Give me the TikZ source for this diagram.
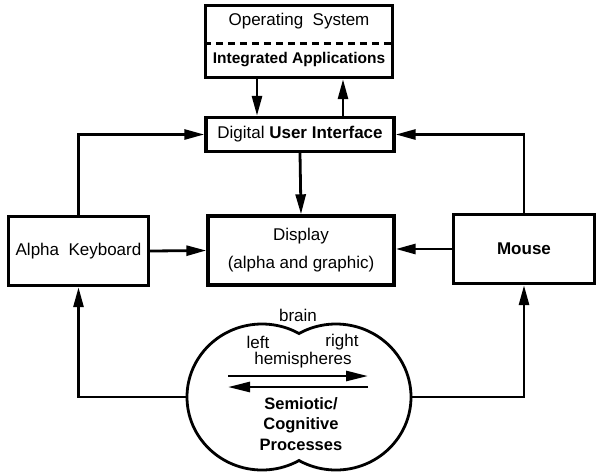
\documentclass[tikz,border=0pt]{standalone}
\usepackage{fontspec}
\setmainfont{Liberation Sans}
\usetikzlibrary{arrows.meta}
\begin{document}
\begin{tikzpicture}[x=1pt,y=-1pt,
  every node/.style={font=\fontsize{17}{20}\selectfont, inner sep=0pt},
  blk/.style={draw, line width=3.4pt},
  conn/.style={line width=2.8pt, -{Triangle[length=20pt,width=10pt]}},
  wire/.style={line width=2.8pt},
  inarrow/.style={line width=2.6pt, -{Triangle[length=22pt,width=10pt]}}
]
\useasboundingbox (0,0) rectangle (597,475);

% top box
\node[blk, minimum width=187pt, minimum height=72pt] (os) at (299,41.5) {};
\node (ostxt) at (299,21) {Operating\ \ System};
\node[font={\fontsize{15.5}{20}\selectfont\bfseries}] (iatxt) at (299,60) {Integrated Applications};
\draw[line width=3pt, dash pattern=on 7pt off 5pt] (os.west |- 0,43) -- (os.east |- 0,43);

% user interface
\node[blk, minimum width=188pt, minimum height=34pt] (ui) at (300,134.5) {Digital \textbf{User Interface}};

% display, keyboard, mouse
\node[blk, minimum width=186pt, minimum height=69pt, align=center] (disp) at (301,250.5)
  {Display\\[8pt](alpha and graphic)};
\node[blk, minimum width=140pt, minimum height=69pt] (kb) at (78.5,251) {Alpha\ \ Keyboard};
\node[blk, minimum width=141pt, minimum height=69pt] (mouse) at (524,249) {\bfseries Mouse};

% connectors
\draw[conn] (os.south -| 257,0) -- (ui.north -| 257,0);
\draw[conn] (ui.north -| 343,0) -- (os.south -| 343,0);
\draw[conn] (ui.south) -- (disp.north);
\draw[conn] (kb.north) |- (ui.west);
\draw[conn] (mouse.north) |- (ui.east);
\draw[conn] (kb.east) -- (disp.west);
\draw[conn] (mouse.west) -- (mouse.west -| disp.east);

% brain
\coordinate (brainL) at (187,397);
\coordinate (brainR) at (411,397);
\begin{scope}
  \clip (0,0) rectangle (299,475);
  \draw[wire] (262,397) ellipse [x radius=75, y radius=73];
\end{scope}
\begin{scope}
  \clip (299,0) rectangle (597,475);
  \draw[wire] (336,397) ellipse [x radius=75, y radius=73];
\end{scope}
\node (brainlbl) at (298,315) {brain};
\node (lefttxt) at (258,342) {left};
\node (righttxt) at (342,342) {right};
\node (hemi) at (303,360) {hemispheres};
\coordinate (ra1) at (228,376);
\coordinate (ra2) at (368,376);
\coordinate (la1) at (368,387);
\coordinate (la2) at (228,387);
\draw[inarrow] (ra1) -- (ra2);
\draw[inarrow] (la1) -- (la2);
\node[align=center, font={\fontsize{16.5}{20.5}\selectfont\bfseries}] (semi) at (301,424)
  {Semiotic/\\Cognitive\\Processes};

\draw[conn] (brainL) -| (kb.south);
\draw[conn] (brainR) -| (mouse.south);
\end{tikzpicture}
\end{document}
